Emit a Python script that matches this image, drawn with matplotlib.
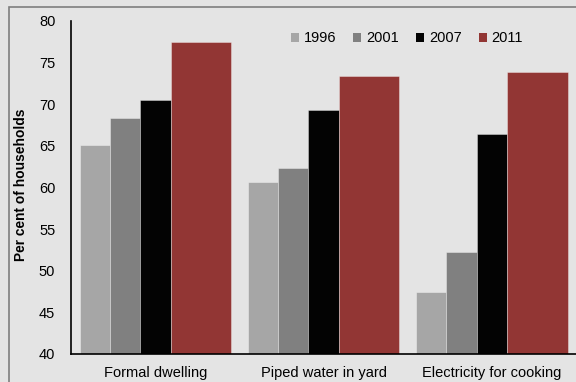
import matplotlib
matplotlib.use("Agg")
import matplotlib.pyplot as plt
from matplotlib.patches import Patch, Rectangle
from matplotlib import font_manager

categories = ["Formal dwelling", "Piped water in yard", "Electricity for cooking"]
years = ["1996", "2001", "2007", "2011"]
v1996 = [65.1, 60.7, 47.5]
v2001 = [68.4, 62.3, 52.2]
v2007 = [70.5, 69.3, 66.4]
v2011 = [77.5, 73.4, 73.9]
yticks = [40, 45, 50, 55, 60, 65, 70, 75, 80]

colors = ["#a6a6a6", "#808080", "#030303", "#923634"]
bg = "#e4e4e4"

names = {f.name for f in font_manager.fontManager.ttflist}
narrow = "Liberation Sans Narrow" in names
fam = ["Liberation Sans Narrow", "DejaVu Sans"] if narrow else ["Liberation Sans", "DejaVu Sans"]
plt.rcParams["font.family"] = fam
fs = 11.5 if narrow else 10.5

fig = plt.figure(figsize=(5.76, 3.82), dpi=100, facecolor=bg)
ax = fig.add_axes([71.3 / 576, 28 / 382, (576 - 71.3) / 576, 333 / 382])
ax.set_facecolor(bg)

# outer frame (top and left edges visible)
fig.add_artist(Rectangle((9 / 576, -0.1), 1.2, (382 - 7) / 382 + 0.1,
                         transform=fig.transFigure, fill=False,
                         edgecolor="#7f7f7f", linewidth=1.2))

w = 0.1802
x = list(range(len(categories)))
edge = (1, 1, 1, 0.35)
ax.bar([i - 2 * w for i in x], v1996, width=w, color=colors[0], edgecolor=edge, linewidth=0.7)
ax.bar([i - w for i in x], v2001, width=w, color=colors[1], edgecolor=edge, linewidth=0.7)
ax.bar(x, v2007, width=w, color=colors[2], edgecolor=edge, linewidth=0.7)
ax.bar([i + 1.5 * w for i in x], v2011, width=2 * w, color=colors[3], edgecolor=edge, linewidth=0.7)

ax.set_xlim(-0.5, 2.5)
ax.set_ylim(40, 80)
ax.set_yticks(yticks)
ax.set_xticks(x)
ax.set_xticklabels(categories)
ax.tick_params(axis="y", length=0, pad=11.5, labelsize=fs)
ax.tick_params(axis="x", length=0, pad=8.5, labelsize=fs)
for s in ["top", "right"]:
    ax.spines[s].set_visible(False)
for s in ["left", "bottom"]:
    ax.spines[s].set_color("black")
    ax.spines[s].set_linewidth(1.2)

fig.text(21 / 576, 0.517, "Per cent of households", rotation=90,
         ha="center", va="center", fontsize=fs - 0.6, fontweight="bold")

handles = [Patch(facecolor=c, edgecolor="none") for c in colors]
fig.legend(handles, years, loc="center", bbox_to_anchor=(407 / 576, 1 - 38.5 / 382),
           ncol=4, frameon=False, fontsize=fs, handlelength=0.55, handleheight=0.55,
           handletextpad=0.35, columnspacing=1.15, borderaxespad=0)

fig.savefig("out.png", dpi=100, facecolor=bg)
